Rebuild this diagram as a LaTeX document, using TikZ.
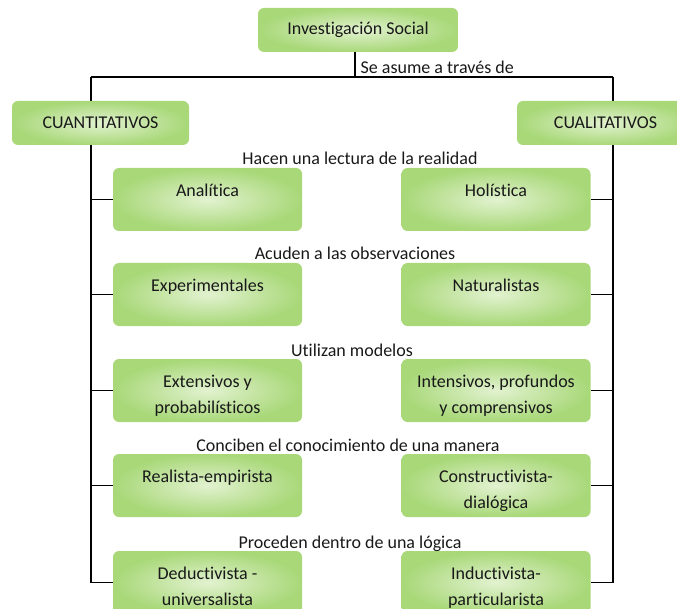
\documentclass[tikz,border=0pt]{standalone}
\usepackage{fontspec}
\setmainfont{Carlito}[Ligatures=CommonOff]
\usetikzlibrary{positioning,backgrounds}
\definecolor{verdeborde}{RGB}{168,216,120}
\definecolor{verdecentro}{RGB}{226,242,208}
\newcommand{\textocaja}[1]{\parbox[c][47.25pt][t]{141pt}{\centering\setlength{\baselineskip}{19.5pt}\rule{0pt}{21.4pt}#1\par}}

\begin{document}
\begin{tikzpicture}[x=0.75pt, y=-0.75pt,
  caja/.style={rectangle, rounded corners=4.5pt, inner sep=0pt, draw=none,
    inner color=verdecentro, outer color=verdeborde, text=black!90,
    font=\fontsize{13.5}{16}\selectfont},
  cabeza/.style={caja, minimum height=33pt},
  fila/.style={caja, minimum width=141.75pt, minimum height=47.25pt},
  rotulo/.style={font=\fontsize{13.5}{16}\selectfont, text=black!90, inner sep=1pt},
  linea/.style={line width=1.1pt},
]
\useasboundingbox (0,0) rectangle (677,609);
% Cabeceras
\node[cabeza, minimum width=150pt] (social) at (358,30) {Investigación Social};
\node[cabeza, minimum width=132.75pt] (cuanti) at (100.5,123) {CUANTITATIVOS};
\node[cabeza, minimum width=132.75pt] (cuali) at (605.5,123) {CUALITATIVOS};
\coordinate (bajada) at (355,77);
\coordinate (codoizq) at (91,77);
\coordinate (cododer) at (613,77);
\node[rotulo, anchor=base west] (asume) at ([shift={(4,-3)}]bajada) {Se asume a través de};
% Filas: centro y / x del rotulo / nombres / textos
\foreach \y/\xr/\izq/\der/\textizq/\textder/\lema in {
  199.5/360/analitica/holistica/{Analítica}/{Holística}/{Hacen una lectura de la realidad},
  294.5/355/experimentales/naturalistas/{Experimentales}/{Naturalistas}/{Acuden a las observaciones},
  390.5/352/extensivos/intensivos/{Extensivos y\\probabilísticos}/{Intensivos, profundos\\y comprensivos}/{Utilizan modelos},
  485.5/348/realista/constructivista/{Realista-empirista}/{Constructivista-\\dialógica}/{Conciben el conocimiento de una manera},
  582.5/350/deductivista/inductivista/{Deductivista -\\universalista}/{Inductivista-\\particularista}/{Proceden dentro de una lógica}} {
  \node[fila] (\izq) at (207.5,\y) {\textocaja{\textizq}};
  \node[fila] (\der) at (496,\y) {\textocaja{\textder}};
  \node[rotulo, anchor=base] (lema-\izq) at (\xr,{\y-34.5}) {\lema};
}
% Conectores
\begin{scope}[on background layer]
  \draw[linea] (social.south -| bajada) -- (bajada);
  \draw[linea] (codoizq) -- (cododer);
  \draw[linea] (codoizq) |- (deductivista.west);
  \draw[linea] (cododer) |- (inductivista.east);
  \foreach \n in {analitica, experimentales, extensivos, realista}
    \draw[linea] (\n.west) -- (\n.west -| codoizq);
  \foreach \n in {holistica, naturalistas, intensivos, constructivista}
    \draw[linea] (\n.east) -- (\n.east -| cododer);
\end{scope}
\end{tikzpicture}
\end{document}
